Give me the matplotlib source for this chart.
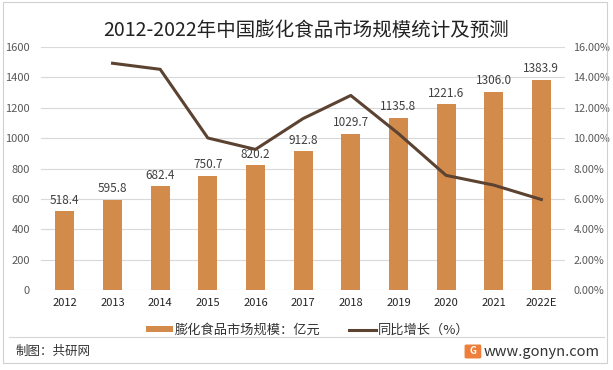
import matplotlib.pyplot as plt
from matplotlib.patches import Rectangle, FancyBboxPatch
from matplotlib.ticker import FuncFormatter
import numpy as np

plt.rcParams['font.family'] = ['Noto Sans CJK SC', 'DejaVu Sans']

# Data
years = ['2012', '2013', '2014', '2015', '2016', '2017', '2018', '2019', '2020', '2021', '2022E']
market_size = [518.4, 595.8, 682.4, 750.7, 820.2, 912.8, 1029.7, 1135.8, 1221.6, 1306.0, 1383.9]
growth_years = years[1:]
growth = [14.93, 14.53, 10.01, 9.26, 11.29, 12.81, 10.30, 7.55, 6.91, 5.96]

bar_color = '#D38B4C'
line_color = '#5B4231'
grid_color = '#D9D9D9'
text_color = '#404040'

fig = plt.figure(figsize=(6.13, 3.70), dpi=100)
ax = fig.add_axes([0.067, 0.216, 0.855, 0.657])

x = np.arange(len(years))
bars = ax.bar(x, market_size, width=0.4, color=bar_color, zorder=2)
for xi, v in zip(x, market_size):
    ax.text(xi, v + 30, f'{v:.1f}', ha='center', va='bottom', fontsize=8.5, color=text_color, zorder=3)

ax.set_ylim(0, 1600)
ax.set_yticks(range(0, 1601, 200))
ax.set_xlim(-0.5, len(years) - 0.5)
ax.set_xticks(x)
ax.set_xticklabels(years, fontsize=8, color='#222222')
ax.tick_params(axis='y', labelsize=8, labelcolor='#595959', length=0, pad=8)
ax.tick_params(axis='x', length=0, pad=6)
ax.grid(axis='y', color=grid_color, linewidth=0.8, zorder=0)
for s in ax.spines.values():
    s.set_visible(False)

ax2 = ax.twinx()
gx = [years.index(y) for y in growth_years]
line, = ax2.plot(gx, [g / 100 for g in growth], color=line_color, linewidth=2.2, zorder=4)
ax2.set_ylim(0, 0.16)
ax2.set_yticks(np.arange(0, 0.161, 0.02))
ax2.yaxis.set_major_formatter(FuncFormatter(lambda v, p: f'{v * 100:.2f}%'))
ax2.tick_params(axis='y', labelsize=7.8, labelcolor='#595959', length=0, pad=6)
for s in ax2.spines.values():
    s.set_visible(False)

fig.legend([bars, line], ['膨化食品市场规模：亿元', '同比增长（%）'], loc='center',
           bbox_to_anchor=(0.502, 0.108), ncol=2, frameon=False, fontsize=9.5,
           handlelength=2.0, handleheight=0.35, handletextpad=0.15, columnspacing=2.2,
           labelcolor='#333333')

fig.text(0.5, 0.918, '2012-2022年中国膨化食品市场规模统计及预测', ha='center', va='center',
         fontsize=14, color='#222222', weight='light')

# footer
fig.add_artist(plt.Line2D([0.015, 0.985], [0.089, 0.089], color='#D6D6D6', linewidth=0.8))
fig.text(0.025, 0.049, '制图：共研网', ha='left', va='center', fontsize=9, color='#333333')
fig.text(0.978, 0.049, 'www.gonyn.com', ha='right', va='center', fontsize=10.5, color='#333333')
fig.add_artist(FancyBboxPatch((0.761, 0.035), 0.021, 0.030, boxstyle='round,pad=0.002',
                              color='#EE7E3A', transform=fig.transFigure))
fig.text(0.7715, 0.050, 'G', ha='center', va='center', fontsize=7, color='white', weight='bold')

# border
fig.add_artist(Rectangle((0.005, 0.019), 0.985, 0.976, fill=False, edgecolor='#D0D0D0',
                         linewidth=0.8, transform=fig.transFigure))

fig.savefig('out.png', dpi=100)
